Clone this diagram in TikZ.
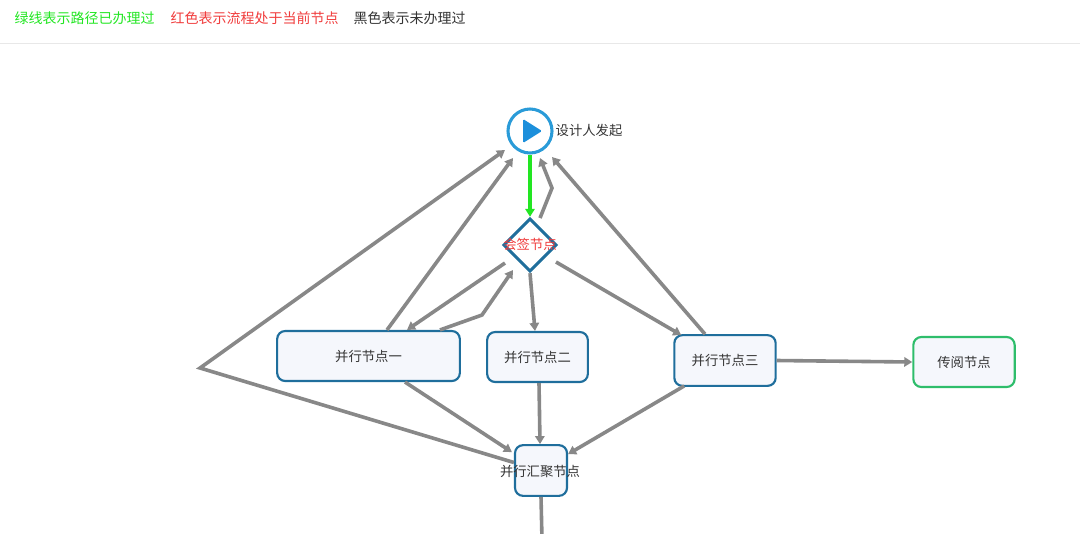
\documentclass[tikz,border=0pt]{standalone}
\usepackage{fontspec}
\newfontfamily\cjk{Noto Sans CJK SC}
\usetikzlibrary{shapes.geometric,arrows.meta,calc}
\definecolor{flowgray}{HTML}{888888}
\definecolor{boxblue}{HTML}{1F6E9C}
\definecolor{startblue}{HTML}{2A9BD8}
\definecolor{playblue}{HTML}{1C8FDB}
\definecolor{boxfill}{HTML}{F5F7FC}
\definecolor{donegreen}{HTML}{22E622}
\definecolor{readgreen}{HTML}{2EBD6B}
\definecolor{nowred}{HTML}{F03C3C}
\definecolor{inkgray}{HTML}{333333}
\tikzset{
  every node/.style={font=\cjk\fontsize{10}{12}\selectfont, text=inkgray},
  taskbox/.style={draw=boxblue, line width=1.6pt, fill=boxfill, rounded corners=6pt, minimum height=37.5pt, inner sep=0pt},
  flow/.style={draw=flowgray, line width=2.7pt, line join=miter, -{Triangle[length=6pt,width=7pt]}},
  plainflow/.style={draw=flowgray, line width=2.7pt},
  hint/.style={anchor=west, font=\cjk\fontsize{10.5}{12}\selectfont}
}
\begin{document}
\begin{tikzpicture}[x=0.75pt,y=-0.75pt]
\useasboundingbox (0,0) rectangle (1080,533);
\node[hint, text=donegreen] (hdone) at (10,18) {绿线表示路径已办理过};
\node[hint, text=nowred] (hnow) at (166,18) {红色表示流程处于当前节点};
\node[hint, text=inkgray] (hnot) at (349,18) {黑色表示未办理过};
\draw[color=black!9, line width=0.75pt] (0,43) -- (1080,43);

\node[circle, draw=startblue, line width=2.3pt, fill=white, minimum size=33pt, inner sep=0pt] (start) at (530,131) {};
\fill[playblue, rounded corners=1pt] (523,119) -- (542,131) -- (523,143) -- cycle;
\node[anchor=west] (startlabel) at (551,130) {设计人发起};
\node[diamond, aspect=1, draw=boxblue, line width=2.3pt, fill=white, minimum size=40pt, inner sep=0pt] (sign) at (530,245) {};
\node[text=nowred] (signlabel) at (530,244) {会签节点};

\node[taskbox, minimum width=137pt] (box1) at (368.5,356) {并行节点一};
\node[taskbox, minimum width=75.5pt] (box2) at (537.5,357) {并行节点二};
\node[taskbox, minimum width=76pt, minimum height=38pt] (box3) at (725,360.5) {并行节点三};
\node[taskbox, draw=readgreen, minimum width=76pt] (read) at (964,362) {传阅节点};
\node[taskbox, minimum width=39pt, minimum height=38pt] (join) at (541,470.5) {};
\node (joinlabel) at (540,471) {并行汇聚节点};

\coordinate (leftbend) at (200,368);
\coordinate (b1bend) at (482,315);
\coordinate (signbend) at (552,188);
\coordinate (joinout) at (542,540);

\draw[donegreen, line width=3pt, -{Triangle[length=6pt,width=7pt]}] (start.south) -- (sign.north);
\draw[flow] ($(sign)+(-25,18)$) -- ($(box1.north)+(38.5,0)$);
\draw[flow] ($(box1.north)+(71.5,0)$) -- (b1bend) -- ($(sign)+(-17,25)$);
\draw[flow] ($(box1.north)+(18.5,0)$) -- ($(start)+(-17,27)$);
\draw[flow] ($(join.west)+(0,-8)$) -- (leftbend) -- ($(start)+(-25,19)$);
\draw[flow] ($(sign)+(10,-27)$) -- (signbend) -- ($(start)+(10,27)$);
\draw[flow] ($(box3.north)+(-20,0)$) -- ($(start)+(22,26)$);
\draw[flow] ($(sign)+(26,17)$) -- ($(box3.north west)+(8,1)$);
\draw[flow] (sign.south) -- ($(box2.north)+(-2.5,0)$);
\draw[flow] ($(box2.south)+(1.5,0)$) -- ($(join.north)+(-1,0)$);
\draw[flow] ($(box1.south)+(36.5,0)$) -- ($(join.north west)+(-2,8)$);
\draw[flow] ($(box3.south west)+(11,-1)$) -- ($(join.north east)+(0,10)$);
\draw[flow] (box3.east) -- (read.west);
\draw[plainflow] (join.south) -- (joinout);
\end{tikzpicture}
\end{document}
